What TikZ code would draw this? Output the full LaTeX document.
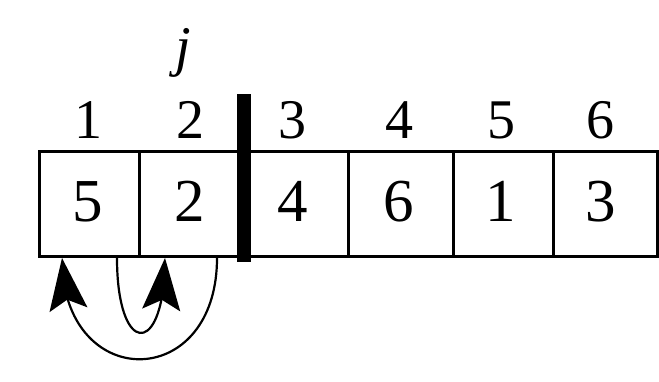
\documentclass[tikz,border=0pt]{standalone}
\usepackage{fontspec}
\setmainfont{Liberation Serif}
\newfontfamily\tnrfont{Liberation Serif}
\usetikzlibrary{arrows.meta,bending}
\begin{document}
\begin{tikzpicture}[x=1pt,y=1pt,
  cell/.style={draw, line width=3pt, minimum height=105pt, inner sep=0pt, anchor=south west},
  idx/.style={anchor=base, inner sep=0pt, font=\tnrfont\fontsize{56}{60}\selectfont},
  val/.style={anchor=base, inner sep=0pt, font=\tnrfont\fontsize{61}{66}\selectfont},
  swaparrow/.style={line width=2.2pt, -{Stealth[length=52pt, width=38pt, inset=10pt, flex]}},
  bar/.style={fill=black, draw=none, minimum width=14pt, minimum height=168pt, inner sep=0pt, anchor=south}
]
\useasboundingbox (0,0) rectangle (659,382);
% cells
\node[cell, minimum width=100pt] (c1) at (38,124) {};
\node[cell, minimum width=106pt] (c2) at (138,124) {};
\node[cell, minimum width=103pt] (c3) at (244,124) {};
\node[cell, minimum width=105pt] (c4) at (347,124) {};
\node[cell, minimum width=100pt] (c5) at (452,124) {};
\node[cell, minimum width=104pt] (c6) at (552,124) {};
% separator bar
\node[bar] (sep) at (244,120) {};
% index labels
\node[idx] (i1) at (88,243) {1};
\node[idx] (i2) at (190,243) {2};
\node[idx] (i3) at (292,243) {3};
\node[idx] (i4) at (399,243) {4};
\node[idx] (i5) at (501,243) {5};
\node[idx] (i6) at (600,243) {6};
\node[idx] (j) at (183,316) {\itshape j};
% values
\node[val] (v1) at (88,160) {5};
\node[val] (v2) at (190,160) {2};
\node[val] (v3) at (293,160) {4};
\node[val] (v4) at (399,160) {6};
\node[val] (v5) at (501,160) {1};
\node[val] (v6) at (601,160) {3};
% swap arrows
\coordinate (o1) at (217,124);
\coordinate (o2) at (62,124);
\coordinate (n1) at (117,124);
\coordinate (n2) at (165,124);
\draw[swaparrow] (o1) .. controls ([yshift=-135pt]o1) and ([yshift=-135pt]o2) .. (o2);
\draw[swaparrow] (n1) .. controls ([yshift=-100pt]n1) and ([yshift=-100pt]n2) .. (n2);
\end{tikzpicture}
\end{document}
